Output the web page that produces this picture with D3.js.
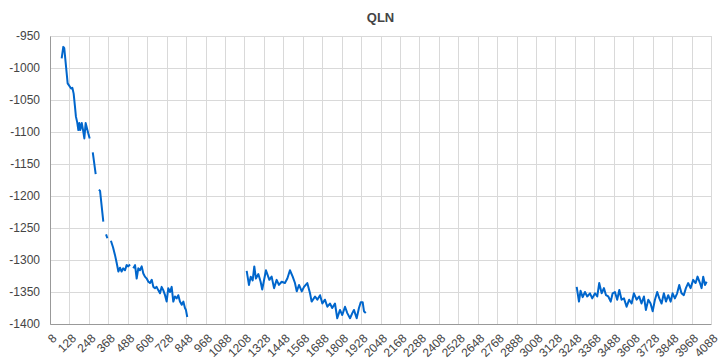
<!DOCTYPE html>
<html>
<head>
<meta charset="utf-8">
<script src="https://cdn.jsdelivr.net/npm/d3@7"></script>
<style>
  body { margin: 0; background: #fff; }
  text { font-family: "Liberation Sans", Arial, sans-serif; }
</style>
</head>
<body>
<svg class="chart"></svg>
<script>
// Data (null = gap in the line)
var xValues = [
    80, 90, 96, 107, 117, 130, 138, 146, 154, 162, 168, 176, 183, 189, 195, 204, 212, 220, 228, 236, 244, 253, 262,
    272, 290, 300,
    310, 317, 337, 346,
    354, 362, 373,
    384, 397, 409, 420, 430, 440, 450, 460, 471, 481, 491, 502, 512,
    522, 533, 543, 553, 563, 574, 584, 594, 605, 615, 625, 636, 646, 656, 666, 676, 687, 697, 707, 718, 728, 738, 749, 759, 769, 779, 790, 800, 810, 821, 831, 841, 847, 855, 870,
    1222, 1236, 1247, 1259, 1269, 1279, 1294, 1308, 1318, 1341, 1362, 1376, 1391, 1407, 1421, 1438, 1458, 1473, 1489, 1506, 1520, 1531, 1545, 1562, 1576, 1596, 1613, 1623, 1644, 1658, 1675, 1689, 1705, 1720, 1736, 1750, 1767, 1781, 1798, 1812, 1829, 1843, 1860, 1874, 1884, 1901, 1915, 1926, 1938, 1946, 1957, 1970,
    3259, 3273, 3283, 3296, 3310, 3324, 3341, 3355, 3372, 3386, 3398, 3413, 3427, 3440, 3454, 3469, 3481, 3495, 3509, 3522, 3536, 3551, 3567, 3583, 3598, 3612, 3629, 3645, 3659, 3674, 3686, 3701, 3715, 3728, 3742, 3756, 3769, 3783, 3797, 3810, 3824, 3839, 3851, 3865, 3879, 3892, 3906, 3920, 3933, 3947, 3962, 3978, 3993, 4005, 4020, 4030, 4040, 4051, 4061
];
var yValues = [
    -985, -967, -969, -998, -1024, -1029, -1032, -1031, -1040, -1060, -1076, -1085, -1097, -1086, -1097, -1086, -1097, -1110, -1086, -1094, -1102, -1110, null,
    -1132, -1166, null,
    -1190, -1192, -1240, null,
    -1260, -1266, null,
    -1270, -1280, -1292, -1305, -1318, -1312, -1318, -1313, -1316, -1308, -1310, -1307, null,
    -1313, -1308, -1329, -1313, -1316, -1310, -1321, -1326, -1329, -1334, -1336, -1331, -1342, -1344, -1342, -1347, -1352, -1342, -1347, -1355, -1365, -1344, -1350, -1342, -1365, -1357, -1360, -1355, -1365, -1370, -1365, -1375, -1378, -1389, null,
    -1317, -1339, -1326, -1332, -1310, -1329, -1322, -1334, -1346, -1316, -1331, -1326, -1344, -1331, -1339, -1334, -1336, -1329, -1316, -1326, -1336, -1349, -1339, -1349, -1342, -1336, -1352, -1365, -1357, -1362, -1355, -1368, -1362, -1373, -1368, -1375, -1368, -1391, -1378, -1386, -1373, -1383, -1391, -1383, -1378, -1391, -1375, -1366, -1366, -1380, -1383, null,
    -1342, -1365, -1348, -1358, -1350, -1357, -1352, -1360, -1352, -1357, -1336, -1352, -1344, -1355, -1357, -1365, -1352, -1350, -1362, -1347, -1362, -1360, -1373, -1362, -1368, -1352, -1362, -1357, -1368, -1357, -1378, -1362, -1368, -1380, -1362, -1350, -1360, -1368, -1352, -1365, -1355, -1365, -1352, -1360, -1352, -1339, -1352, -1355, -1344, -1336, -1344, -1331, -1336, -1326, -1336, -1344, -1326, -1339, -1334
];
var xTicks = d3.range(8, 4089, 120);
var yTicks = d3.range(-1400, -949, 50);

// Margins
var margin = {
        top: 36,
        right: 9,
        bottom: 36,
        left: 50
    },
    width = 720 - margin.left - margin.right,
    height = 360 - margin.top - margin.bottom;

var svg = d3.select(".chart")
    .attr("width", 720)
    .attr("height", 360);

var chart = svg.append("g")
    .attr("transform", "translate(" + margin.left + "," + margin.top + ")");

var x = d3.scaleLinear().domain([8, 4088]).range([0, width]);
var y = d3.scaleLinear().domain([-1400, -950]).range([height, 0]);

// plain labels, no thousands separator, ascii minus
var plain = function (d) { return String(d); };

// Title
svg.append("text")
    .attr("x", margin.left + width / 2)
    .attr("y", 22)
    .attr("text-anchor", "middle")
    .style("font-size", "13px")
    .style("font-weight", "bold")
    .style("fill", "#444")
    .text("QLN");

// Grid lines
chart.append("g").selectAll("line")
    .data(yTicks)
    .enter().append("line")
    .attr("x1", 0).attr("x2", width)
    .attr("y1", function (d) { return Math.round(y(d)) + 0.5; })
    .attr("y2", function (d) { return Math.round(y(d)) + 0.5; })
    .style("stroke", "#d9d9d9");

chart.append("g").selectAll("line")
    .data(xTicks)
    .enter().append("line")
    .attr("y1", 0).attr("y2", height)
    .attr("x1", function (d) { return Math.round(x(d)) + 0.5; })
    .attr("x2", function (d) { return Math.round(x(d)) + 0.5; })
    .style("stroke", "#d9d9d9");

// Axes
var xAxis = d3.axisBottom(x).tickValues(xTicks).tickFormat(plain).tickSize(0).tickPadding(0);
var yAxis = d3.axisLeft(y).tickValues(yTicks).tickFormat(plain).tickSize(0).tickPadding(10);

var gx = chart.append("g")
    .attr("transform", "translate(0," + height + ")")
    .call(xAxis);
gx.select(".domain").style("stroke", "#999");
gx.selectAll("text")
    .attr("x", 0).attr("y", 0).attr("dy", "0.35em")
    .attr("transform", "translate(4,12) rotate(-45)")
    .style("text-anchor", "end")
    .style("font-size", "12px")
    .style("fill", "#444");

var gy = chart.append("g").call(yAxis);
gy.select(".domain").style("stroke", "#999");
gy.selectAll("text")
    .style("font-size", "12px")
    .style("fill", "#444");

// Line
var points = xValues.map(function (d, i) { return [d, yValues[i]]; });
var line = d3.line()
    .defined(function (d) { return d[1] !== null; })
    .x(function (d) { return x(d[0]); })
    .y(function (d) { return y(d[1]); });

chart.append("path")
    .datum(points)
    .attr("d", line)
    .style("fill", "none")
    .style("stroke", "#0066cc")
    .style("stroke-width", 2)
    .style("stroke-linejoin", "round");
</script>
</body>
</html>
